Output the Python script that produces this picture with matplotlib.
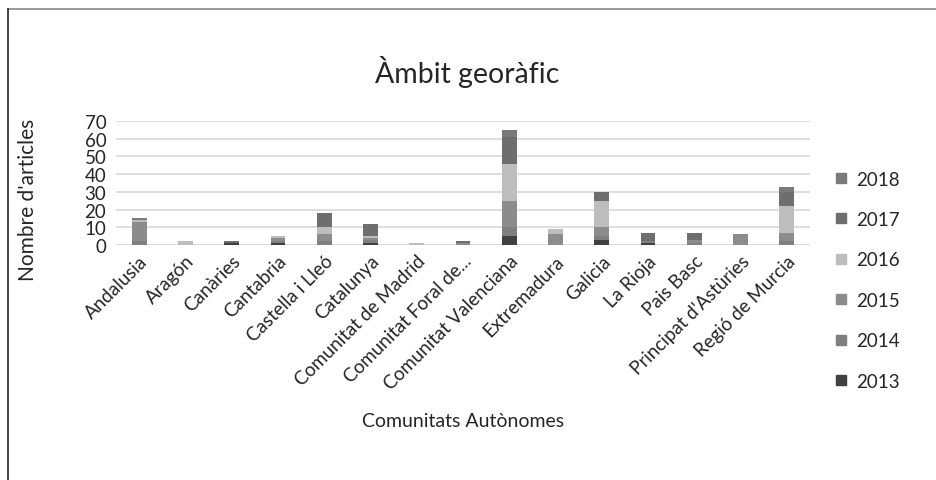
import numpy as np
import matplotlib
matplotlib.use('Agg')
import matplotlib.pyplot as plt
from matplotlib.lines import Line2D

plt.rcParams['font.family'] = ['Lato', 'DejaVu Sans']

# comunitats (eix x)
comunitats = ['Andalusia', 'Aragón', 'Canàries', 'Cantabria', 'Castella i Lleó',
              'Catalunya', 'Comunitat de Madrid', 'Comunitat Foral de...',
              'Comunitat Valenciana', 'Extremadura', 'Galicia', 'La Rioja',
              'Pais Basc', "Principat d'Astùries", 'Regió de Murcia']

anys = ['2013', '2014', '2015', '2016', '2017', '2018']

# articles per any (llegits del grafic)
v2013 = [0, 0, 1, 1, 0, 1, 0, 0, 5, 0, 3, 1, 0, 0, 0]
v2014 = [2, 0, 0, 1, 2, 2, 0, 0, 5, 0, 2, 1, 1, 0, 2]
v2015 = [11, 0, 0, 2, 4, 1, 0, 1, 15, 6, 5, 0, 2, 6, 5]
v2016 = [1, 2, 0, 1, 4, 1, 1, 0, 21, 3, 15, 0, 0, 0, 15]
v2017 = [0, 0, 1, 0, 8, 7, 0, 1, 15, 0, 5, 5, 4, 0, 8]
v2018 = [1, 0, 0, 0, 0, 0, 0, 0, 4, 0, 0, 0, 0, 0, 3]

colors = ['#404040', '#7f7f7f', '#8c8c8c', '#bdbdbd', '#6e6e6e', '#7a7a7a']

fig = plt.figure(figsize=(9.37, 4.81), dpi=100)
ax = fig.add_axes([116/937, 1-246/481, 694/937, 124/481])

x = np.arange(len(comunitats))
bottom = np.zeros(len(comunitats))
series = [v2013, v2014, v2015, v2016, v2017, v2018]
for vals, c, lab in zip(series, colors, anys):
    ax.bar(x, vals, width=0.32, bottom=bottom, color=c, label=lab, zorder=3)
    bottom += np.array(vals)

ax.set_xlim(-0.5, len(comunitats)-0.5)
ax.set_ylim(0, 70)
ax.set_yticks(range(0, 71, 10))
ax.yaxis.grid(True, color='#d9d9d9', linewidth=1.2, zorder=0)
for s in ax.spines.values():
    s.set_visible(False)
ax.axhline(0, color='#d9d9d9', linewidth=1.2, zorder=1)
ax.tick_params(axis='both', length=0, labelsize=13.5, colors='#262626')
ax.tick_params(axis='y', pad=7)
ax.tick_params(axis='x', pad=5)
ax.set_xticks(x)
ax.set_xticklabels(comunitats, rotation=45, ha='right', rotation_mode='anchor')

ax.set_ylabel("Nombre d'articles", fontsize=15, color='#262626')
ax.yaxis.set_label_coords(-0.112, 0.37)
fig.text(0.498, 0.85, 'Àmbit georàfic', fontsize=20.5, color='#262626',
         ha='center', va='center')
fig.text(0.494, 0.123, 'Comunitats Autònomes', fontsize=14, color='#262626',
         ha='center', va='center')

# llegenda (ordre invers)
handles = [Line2D([0], [0], marker='s', linestyle='', markersize=7,
                  markerfacecolor=c, markeredgecolor=c) for c in colors]
leg = fig.legend(handles[::-1], anys[::-1], loc='upper left',
                 bbox_to_anchor=(826/937, 1-164/481), frameon=False,
                 fontsize=13.5, labelspacing=1.25, handlelength=0.8,
                 handletextpad=0.4, borderaxespad=0)
for t in leg.get_texts():
    t.set_color('#262626')

# marc
fig.add_artist(Line2D([8/937, 1], [1-10/481]*2, color='#8a8a8a', linewidth=1.2))
fig.add_artist(Line2D([8/937]*2, [0, 1-10/481], color='#222222', linewidth=1.2))

fig.savefig('out.png', dpi=100)
